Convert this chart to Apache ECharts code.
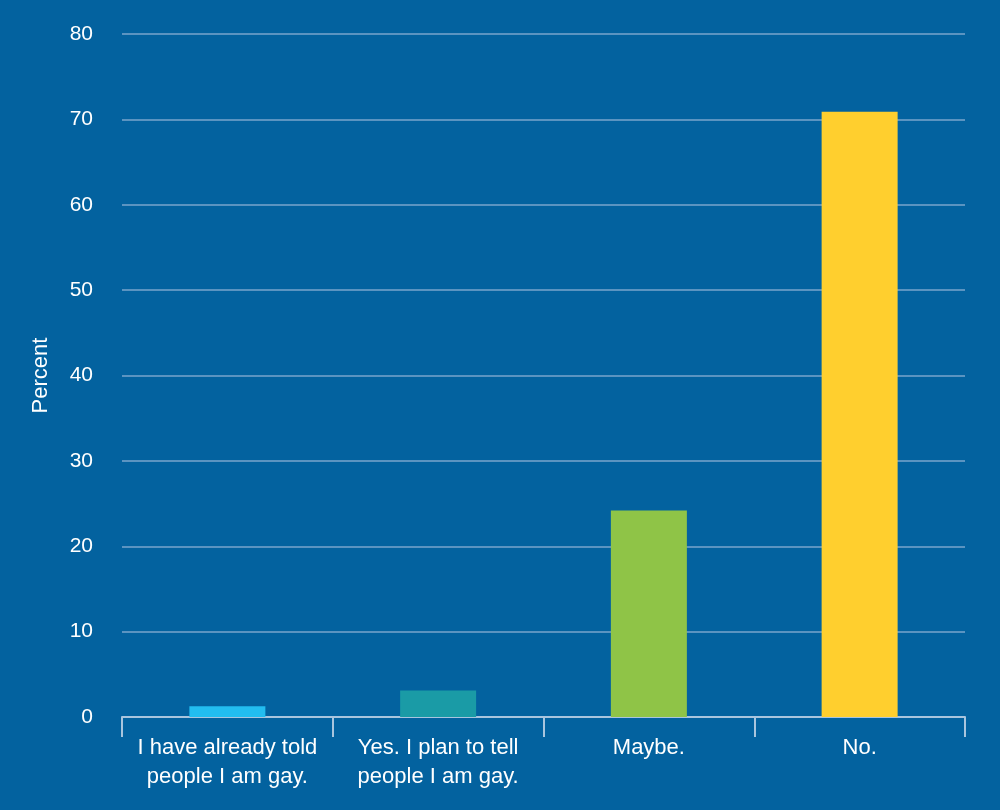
<!DOCTYPE html>
<html>
<head>
<meta charset="utf-8">
<script src="https://cdn.jsdelivr.net/npm/echarts@6/dist/echarts.min.js"></script>
<style>
html,body{margin:0;padding:0;background:#03629f;}
#chart{width:1000px;height:810px;}
</style>
</head>
<body>
<div id="chart"></div>
<script>
const categories = ["I have already told\npeople I am gay.", "Yes. I plan to tell\npeople I am gay.", "Maybe.", "No."];
const values = [1.25, 3.1, 24.2, 70.9];
const colors = ["#22bdf0", "#1a9ba6", "#8fc447", "#ffcf2e"];
const yTicks = { min: 0, max: 80, interval: 10 };

const FONT = 'Liberation Sans, Arial, Helvetica, sans-serif';
const chart = echarts.init(document.getElementById('chart'));
chart.setOption({
  backgroundColor: '#03629f',
  animation: false,
  grid: { left: 122, right: 35, top: 34, bottom: 93, containLabel: false },
  xAxis: {
    type: 'category',
    data: categories,
    axisLine: { lineStyle: { color: '#a9c5de', width: 2 } },
    axisTick: { show: true, length: 20, lineStyle: { color: '#a9c5de', width: 2 } },
    axisLabel: { color: '#ffffff', fontSize: 22, fontFamily: FONT, margin: 16, lineHeight: 29, interval: 0 }
  },
  yAxis: {
    type: 'value',
    min: yTicks.min, max: yTicks.max, interval: yTicks.interval,
    name: 'Percent',
    nameLocation: 'middle',
    nameGap: 70,
    nameRotate: 90,
    nameTextStyle: { color: '#ffffff', fontSize: 22, fontFamily: FONT },
    axisLine: { show: false },
    axisTick: { show: false },
    splitLine: { lineStyle: { color: '#7aa6cc', width: 1.5 } },
    axisLabel: { color: '#ffffff', fontSize: 21, fontFamily: FONT, margin: 29 }
  },
  series: [{
    type: 'bar',
    barWidth: 76,
    data: values.map((v, i) => ({ value: v, itemStyle: { color: colors[i] } }))
  }]
});
</script>
</body>
</html>
